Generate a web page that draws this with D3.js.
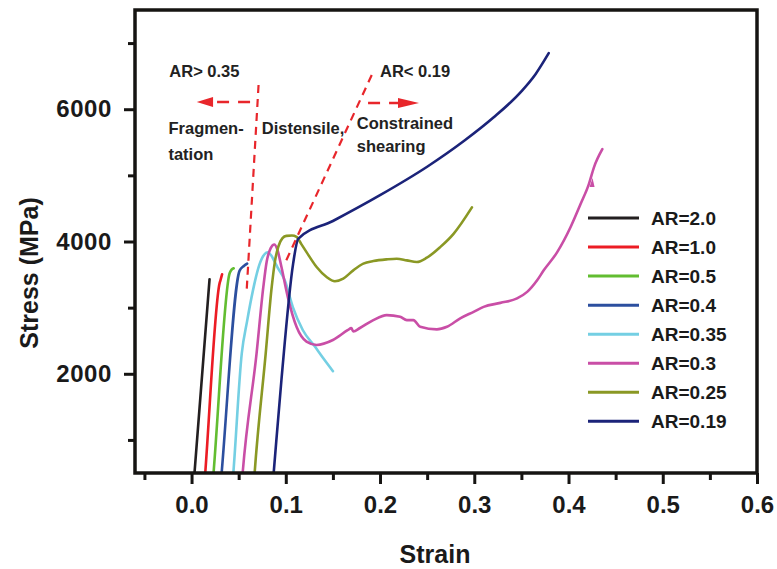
<!DOCTYPE html>
<html>
<head>
<meta charset="utf-8">
<script src="https://cdn.jsdelivr.net/npm/d3@7/dist/d3.min.js"></script>
<style>
  html, body { margin: 0; padding: 0; background: #fff; }
  svg text { font-family: "Liberation Sans", Arial, Helvetica, sans-serif; font-weight: bold; fill: #1a1a1a; }
</style>
</head>
<body>
<svg id="chart" width="777" height="569"></svg>
<script>
// Stress–strain curves for pillars of different aspect ratio (AR)
const categories = ["AR=2.0", "AR=1.0", "AR=0.5", "AR=0.4", "AR=0.35", "AR=0.3", "AR=0.25", "AR=0.19"];
const palette = ["#231f20", "#ec1c24", "#62bd31", "#2c4f9f", "#74cfe3", "#c94ea6", "#8a9824", "#1b2379"];

// [strain, stress (MPa)]
const ar20 = [[0.0004, 0], [0.0191, 3430]];
const ar10 = [[0.012, 0], [0.0146, 511], [0.0298, 3370], [0.0306, 3410], [0.0324, 3505]];
const ar05 = [[0.0205, 0], [0.0234, 511], [0.0404, 3520], [0.0425, 3575], [0.0447, 3595]];
const ar04 = [[0.029, 0], [0.032, 511], [0.051, 3560], [0.0555, 3630], [0.059, 3665]];
const ar035 = [[0.0415, 0], [0.0444, 511], [0.0533, 2310], [0.059, 2800], [0.065, 3250], [0.072, 3650],
  [0.077, 3800], [0.0805, 3835], [0.084, 3800], [0.088, 3700], [0.092, 3590], [0.0989, 3414],
  [0.1074, 3012], [0.118, 2662], [0.1309, 2411], [0.140, 2230], [0.150, 2040]];
const ar03 = [[0.0515, 0], [0.0543, 511], [0.069, 2310], [0.0762, 3317], [0.0798, 3700], [0.084, 3900],
  [0.0878, 3955], [0.091, 3880], [0.0954, 3614], [0.1021, 3163], [0.1114, 2711],
  [0.122, 2486], [0.1327, 2436], [0.150, 2511], [0.166, 2662], [0.1695, 2690], [0.1716, 2640],
  [0.1787, 2692], [0.1929, 2812], [0.2071, 2887], [0.2213, 2862], [0.2284, 2812], [0.2354, 2812],
  [0.2426, 2711], [0.2603, 2672], [0.271, 2711], [0.2851, 2838], [0.2993, 2937], [0.3099, 3012],
  [0.3277, 3072], [0.3454, 3139], [0.3561, 3238], [0.3667, 3414], [0.3737, 3564], [0.388, 3839],
  [0.4021, 4215], [0.4128, 4567], [0.4216, 4868], [0.4269, 5118], [0.4359, 5395]];
const ar025 = [[0.0645, 0], [0.067, 511], [0.0787, 2310], [0.0851, 3317], [0.0885, 3700], [0.092, 3920],
  [0.0965, 4050], [0.1007, 4085], [0.1065, 4090], [0.1114, 4070], [0.1165, 3960], [0.122, 3839],
  [0.1327, 3614], [0.1433, 3463], [0.1521, 3399], [0.161, 3439], [0.1716, 3564], [0.1823, 3665],
  [0.1929, 3704], [0.2071, 3730], [0.2177, 3740], [0.2284, 3715], [0.239, 3689], [0.2497, 3755],
  [0.2638, 3915], [0.278, 4116], [0.2975, 4516]];
const ar019 = [[0.0842, 0], [0.0872, 511], [0.0954, 1910], [0.1078, 3665], [0.1131, 4041], [0.150, 4310],
  [0.200, 4700], [0.250, 5130], [0.290, 5530], [0.320, 5870], [0.350, 6270], [0.365, 6530], [0.379, 6847]];
const seriesValues = [ar20, ar10, ar05, ar04, ar035, ar03, ar025, ar019];

// axis ticks
const xMajor = [0.0, 0.1, 0.2, 0.3, 0.4, 0.5, 0.6];
const xMinor = [-0.05, 0.05, 0.15, 0.25, 0.35, 0.45, 0.55];
const yMajor = [2000, 4000, 6000];
const yMinor = [1000, 3000, 5000, 7000];

// regime boundaries and annotations
const boundaryLow = [[0.0711, 6366], [0.0584, 3237]];
const boundaryHigh = [[0.1912, 6518], [0.0992, 3675]];
const arrowLeft = [[0.0621, 6110], [0.0228, 6110], [0.0055, 6110]];
const arrowRight = [[0.1873, 6094], [0.2191, 6094], [0.2414, 6094]];
const notes = [
  { text: "AR> 0.35", at: [-0.0236, 6488] },
  { text: "Fragmen-", at: [-0.0245, 5626] },
  { text: "tation", at: [-0.0245, 5233] },
  { text: "Distensile,", at: [0.0745, 5626] },
  { text: "AR< 0.19", at: [0.200, 6488] },
  { text: "Constrained", at: [0.1753, 5701] },
  { text: "shearing", at: [0.1753, 5354] }
];

const W = 777, H = 569;
const margin = { top: 10, right: 20, bottom: 96, left: 135 };
const svg = d3.select("#chart");

const x = d3.scaleLinear().domain([-0.06, 0.6]).range([margin.left, W - margin.right]);
const y = d3.scaleLinear().domain([500, 7500]).range([H - margin.bottom, margin.top]);

svg.append("defs").append("clipPath").attr("id", "plotArea")
  .append("rect")
  .attr("x", x.range()[0]).attr("y", y.range()[1])
  .attr("width", x.range()[1] - x.range()[0])
  .attr("height", y.range()[0] - y.range()[1]);

// curves
const line = d3.line().x(d => x(d[0])).y(d => y(d[1])).curve(d3.curveMonotoneX);
const curves = svg.append("g").attr("clip-path", "url(#plotArea)");
curves.selectAll("path.curve")
  .data(seriesValues)
  .join("path")
  .attr("class", "curve")
  .attr("d", line)
  .attr("fill", "none")
  .attr("stroke", (d, i) => palette[i])
  .attr("stroke-width", 2.6)
  .attr("stroke-linejoin", "round")
  .attr("stroke-linecap", "round");

// small arrowhead on the AR=0.3 curve
const tip = [0.4255, 4960];
svg.append("path")
  .attr("d", `M${x(tip[0])},${y(tip[1])} l-3,9 l5,0 z`)
  .attr("fill", palette[5]);

// regime boundaries
const straight = d3.line().x(d => x(d[0])).y(d => y(d[1]));
const red = "#e8262b";
[boundaryLow, boundaryHigh].forEach(b => {
  svg.append("path").attr("d", straight(b))
    .attr("fill", "none").attr("stroke", red)
    .attr("stroke-width", 2.2).attr("stroke-dasharray", "8,6");
});

function drawArrow(pts) {
  svg.append("path").attr("d", straight(pts.slice(0, 2)))
    .attr("fill", "none").attr("stroke", red)
    .attr("stroke-width", 2.6).attr("stroke-dasharray", "12,9");
  const bx = x(pts[1][0]), tx = x(pts[2][0]), cy = y(pts[2][1]);
  svg.append("path")
    .attr("d", `M${tx},${cy} L${bx},${cy - 5} L${bx},${cy + 5} Z`)
    .attr("fill", red);
}
drawArrow(arrowLeft);
drawArrow(arrowRight);

svg.selectAll("text.note")
  .data(notes)
  .join("text")
  .attr("class", "note")
  .attr("x", d => x(d.at[0]))
  .attr("y", d => y(d.at[1]))
  .attr("font-size", 16.5)
  .style("fill", "#222")
  .text(d => d.text);

// frame
const frameColor = "#161412";
svg.append("rect")
  .attr("x", x.range()[0]).attr("y", y.range()[1])
  .attr("width", x.range()[1] - x.range()[0])
  .attr("height", y.range()[0] - y.range()[1])
  .attr("fill", "none").attr("stroke", frameColor).attr("stroke-width", 3.5);

// axes
function styleAxis(g) {
  g.select(".domain").remove();
  g.selectAll(".tick line").attr("stroke", frameColor).attr("stroke-width", 3);
  g.selectAll(".tick text").attr("fill", "#1a1a1a");
}
const xAxis = svg.append("g").attr("transform", `translate(0,${y.range()[0]})`)
  .call(d3.axisBottom(x).tickValues(xMajor).tickSize(11).tickPadding(12).tickFormat(d3.format(".1f")));
styleAxis(xAxis);
xAxis.selectAll(".tick text").attr("font-size", 24).style("font-family", "'Liberation Sans', Arial, sans-serif").style("font-weight", "bold");

const xAxisMinor = svg.append("g").attr("transform", `translate(0,${y.range()[0]})`)
  .call(d3.axisBottom(x).tickValues(xMinor).tickSize(7).tickFormat(""));
styleAxis(xAxisMinor);

const yAxis = svg.append("g").attr("transform", `translate(${x.range()[0]},0)`)
  .call(d3.axisLeft(y).tickValues(yMajor).tickSize(11).tickPadding(12).tickFormat(d3.format("d")));
styleAxis(yAxis);
yAxis.selectAll(".tick text").attr("font-size", 24).attr("letter-spacing", 0.6)
  .style("font-family", "'Liberation Sans', Arial, sans-serif").style("font-weight", "bold");

const yAxisMinor = svg.append("g").attr("transform", `translate(${x.range()[0]},0)`)
  .call(d3.axisLeft(y).tickValues(yMinor).tickSize(7).tickFormat(""));
styleAxis(yAxisMinor);

// axis titles
svg.append("text")
  .attr("x", 435).attr("y", 563)
  .attr("text-anchor", "middle")
  .attr("font-size", 25)
  .text("Strain");
svg.append("text")
  .attr("transform", "translate(38,273) rotate(-90)")
  .attr("text-anchor", "middle")
  .attr("font-size", 25)
  .text("Stress (MPa)");

// legend
const legend = svg.append("g").attr("transform", "translate(588,218)");
const rows = legend.selectAll("g.row")
  .data(categories)
  .join("g")
  .attr("class", "row")
  .attr("transform", (d, i) => `translate(0,${i * 29.05})`);
rows.append("line")
  .attr("x1", 0).attr("x2", 51)
  .attr("stroke", (d, i) => palette[i])
  .attr("stroke-width", 3);
rows.append("text")
  .attr("x", 63).attr("y", 7)
  .attr("font-size", 19)
  .text(d => d);
</script>
</body>
</html>
